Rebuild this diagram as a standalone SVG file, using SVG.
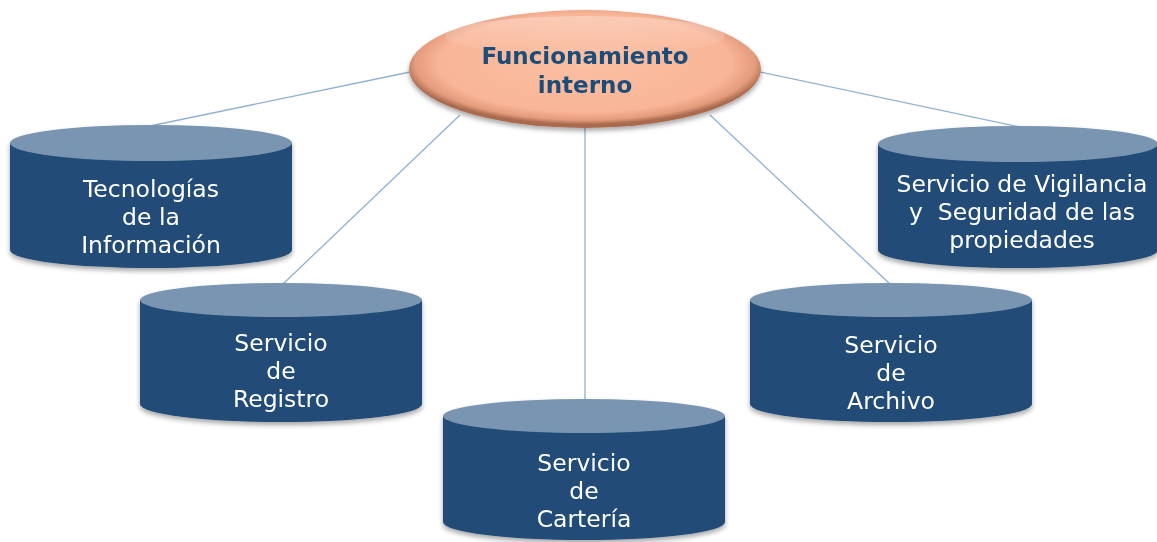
<svg xmlns="http://www.w3.org/2000/svg" width="1157" height="542" viewBox="0 0 1157 542">
<defs>
<style>
.body{fill:#204c77;}
.top{fill:#7995b1;}
.lbl{font-family:"DejaVu Sans",Verdana,sans-serif;font-size:23.5px;fill:#ffffff;text-anchor:middle;}
.ttl{font-family:"DejaVu Sans",Verdana,sans-serif;font-size:23px;font-weight:bold;fill:#1f4e79;text-anchor:middle;}
.conn{stroke:#8fb0d2;stroke-width:1.3;fill:none;}
</style>
<radialGradient id="oval" cx="50%" cy="45%" r="52%">
<stop offset="0" stop-color="#fbbfa2"/>
<stop offset="0.8" stop-color="#f9b597"/>
<stop offset="0.93" stop-color="#e39c7c"/>
<stop offset="1" stop-color="#a96a4e"/>
</radialGradient>
<linearGradient id="hl" x1="0" y1="0" x2="0" y2="1">
<stop offset="0" stop-color="#ffffff" stop-opacity="0.6"/>
<stop offset="1" stop-color="#ffffff" stop-opacity="0"/>
</linearGradient>
<filter id="sh" x="-10%" y="-10%" width="120%" height="130%">
<feGaussianBlur in="SourceAlpha" stdDeviation="2.5"/>
<feOffset dx="0" dy="3" result="b"/>
<feComponentTransfer><feFuncA type="linear" slope="0.35"/></feComponentTransfer>
<feMerge><feMergeNode/><feMergeNode in="SourceGraphic"/></feMerge>
</filter>
</defs>
<rect width="1157" height="542" fill="#ffffff"/>
<g id="connectors">
<line class="conn" x1="410" y1="72" x2="150" y2="126"/>
<line class="conn" x1="460" y1="115" x2="283" y2="284"/>
<line class="conn" x1="585" y1="128" x2="585" y2="399"/>
<line class="conn" x1="710" y1="115" x2="890" y2="284"/>
<line class="conn" x1="760" y1="72" x2="1020" y2="127"/>
</g>
<g id="center" filter="url(#sh)">
<ellipse cx="585" cy="69" rx="176" ry="59" fill="url(#oval)"/>
<ellipse cx="585" cy="36" rx="140" ry="20" fill="url(#hl)" opacity="0.5"/>
<text class="ttl" x="585" y="64">Funcionamiento</text>
<text class="ttl" x="585" y="93">interno</text>
</g>
<g id="tecnologias" filter="url(#sh)">
<path class="body" d="M10,143 L10,250 A141,18 0 0 0 292,250 L292,143 Z"/>
<ellipse class="top" cx="151" cy="143" rx="141" ry="18"/>
<text class="lbl" x="151" y="197">Tecnologías</text>
<text class="lbl" x="151" y="225">de la</text>
<text class="lbl" x="151" y="253">Información</text>
</g>
<g id="registro" filter="url(#sh)">
<path class="body" d="M140,300 L140,404 A141,18 0 0 0 422,404 L422,300 Z"/>
<ellipse class="top" cx="281" cy="300" rx="141" ry="17"/>
<text class="lbl" x="281" y="351">Servicio</text>
<text class="lbl" x="281" y="379">de</text>
<text class="lbl" x="281" y="407">Registro</text>
</g>
<g id="carteria" filter="url(#sh)">
<path class="body" d="M443,416 L443,522 A141,18 0 0 0 725,522 L725,416 Z"/>
<ellipse class="top" cx="584" cy="416" rx="141" ry="17"/>
<text class="lbl" x="584" y="471">Servicio</text>
<text class="lbl" x="584" y="499">de</text>
<text class="lbl" x="584" y="527">Cartería</text>
</g>
<g id="archivo" filter="url(#sh)">
<path class="body" d="M750,300 L750,404 A141,18 0 0 0 1032,404 L1032,300 Z"/>
<ellipse class="top" cx="891" cy="300" rx="141" ry="17"/>
<text class="lbl" x="891" y="353">Servicio</text>
<text class="lbl" x="891" y="381">de</text>
<text class="lbl" x="891" y="409">Archivo</text>
</g>
<g id="vigilancia" filter="url(#sh)">
<path class="body" d="M878,144 L878,250 A140,18 0 0 0 1158,250 L1158,144 Z"/>
<ellipse class="top" cx="1018" cy="144" rx="140" ry="18"/>
<text class="lbl" x="1022" y="192">Servicio de Vigilancia</text>
<text class="lbl" x="1022" y="220" xml:space="preserve">y  Seguridad de las</text>
<text class="lbl" x="1022" y="248">propiedades</text>
</g>
</svg>
